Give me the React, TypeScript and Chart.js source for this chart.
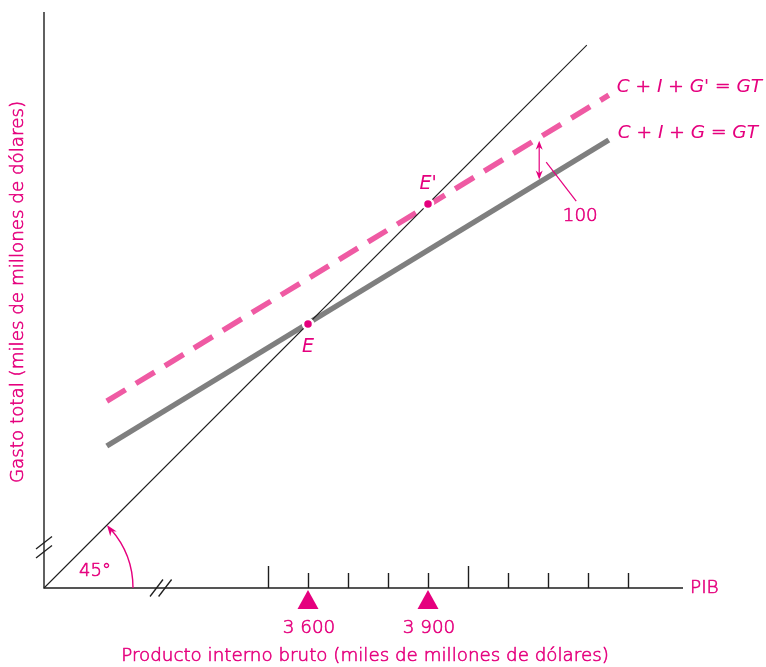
import React, { useEffect, useRef } from "react";
import { Chart, registerables } from "chart.js";

Chart.register(...registerables);

// ---- data (miles de millones de dólares) ----
const axisMin = 2940;
const xAxisMax = 4537.5;
const yAxisMax = 4380;
const line45X = [2940, 4297];
const gastoX = [3097, 4352];
const gastoY = [3295, 4060]; // C + I + G = GT
const gastoNuevoY = [3407, 4172]; // C + I + G' = GT
const equilibriumX = [3600, 3900];
const equilibriumLabels = ["E", "E'"];
const tickValues = [3500, 3600, 3700, 3800, 3900, 4000, 4100, 4200, 4300, 4400];
const majorTickValues = [3500, 4000];
const markedTickValues = [3600, 3900];
const markedTickLabels = ["3 600", "3 900"];
const shiftArrowX = 4178;
const shiftLabel = "100";
const yBreakValue = 3042;
const xBreakValue = 3232;

const MAGENTA = "#e5007e";
const PINK = "#ef5aa3";
const GRAY = "#7f7f7f";
const BLACK = "#1e1e1e";
const FONT = '"DejaVu Sans", "Liberation Sans", Arial, sans-serif';
const W = "200";
const TEXT_STROKE = 0.6;

function txt(ctx: CanvasRenderingContext2D, s: string, x: number, y: number, stroke = true) {
  ctx.fillText(s, x, y);
  if (!stroke) return;
  ctx.save();
  ctx.lineWidth = TEXT_STROKE;
  ctx.lineJoin = "round";
  ctx.strokeText(s, x, y);
  ctx.restore();
}

type Part = { t: string; i?: boolean };
function drawRich(ctx: CanvasRenderingContext2D, parts: Part[], x: number, y: number, size: number) {
  let cx = x;
  for (const p of parts) {
    ctx.font = p.i ? `italic normal ${size}px ${FONT}` : `${W} ${size}px ${FONT}`;
    txt(ctx, p.t, cx, y, !p.i);
    cx += ctx.measureText(p.t).width;
  }
}

function interp(xs: number[], ys: number[], x: number) {
  return ys[0] + ((ys[1] - ys[0]) * (x - xs[0])) / (xs[1] - xs[0]);
}

function arrowHead(ctx: CanvasRenderingContext2D, x: number, y: number, ang: number, len: number, w: number) {
  ctx.beginPath();
  ctx.moveTo(x, y);
  ctx.lineTo(x - len * Math.cos(ang) + w * Math.sin(ang), y - len * Math.sin(ang) - w * Math.cos(ang));
  ctx.lineTo(x - len * 0.7 * Math.cos(ang), y - len * 0.7 * Math.sin(ang));
  ctx.lineTo(x - len * Math.cos(ang) - w * Math.sin(ang), y - len * Math.sin(ang) + w * Math.cos(ang));
  ctx.closePath();
  ctx.fill();
}

const decorPlugin = {
  id: "decor",
  beforeDatasetsDraw(chart: any) {
    const ctx: CanvasRenderingContext2D = chart.ctx;
    const xs = chart.scales.x;
    const ys = chart.scales.y;
    const ox = xs.getPixelForValue(axisMin);
    const oy = ys.getPixelForValue(axisMin);
    const { top, right } = chart.chartArea;
    ctx.save();
    ctx.strokeStyle = BLACK;
    ctx.lineWidth = 1.4;
    ctx.beginPath();
    ctx.moveTo(ox, top);
    ctx.lineTo(ox, oy);
    ctx.lineTo(right, oy);
    ctx.stroke();
    // ticks
    for (const v of tickValues) {
      const px = Math.round(xs.getPixelForValue(v)) + 0.5;
      const h = majorTickValues.includes(v) ? 22 : 15;
      ctx.beginPath();
      ctx.moveTo(px, oy);
      ctx.lineTo(px, oy - h);
      ctx.stroke();
    }
    // axis breaks
    ctx.lineWidth = 1.3;
    const by = ys.getPixelForValue(yBreakValue);
    for (const d of [-4.5, 4.5]) {
      ctx.beginPath();
      ctx.moveTo(ox - 8, by + d + 6.3);
      ctx.lineTo(ox + 8, by + d - 6.3);
      ctx.stroke();
    }
    const bx = xs.getPixelForValue(xBreakValue);
    for (const d of [-4.3, 4.3]) {
      ctx.beginPath();
      ctx.moveTo(bx + d - 6.5, oy + 8.5);
      ctx.lineTo(bx + d + 6.5, oy - 8.5);
      ctx.stroke();
    }
    ctx.restore();
  },
  afterDatasetsDraw(chart: any) {
    const ctx: CanvasRenderingContext2D = chart.ctx;
    const xs = chart.scales.x;
    const ys = chart.scales.y;
    const ox = xs.getPixelForValue(axisMin);
    const oy = ys.getPixelForValue(axisMin);
    const { right } = chart.chartArea;
    ctx.save();
    ctx.fillStyle = MAGENTA;
    ctx.strokeStyle = MAGENTA;
    ctx.textBaseline = "middle";
    ctx.textAlign = "center";
    // triangles + labels
    markedTickValues.forEach((v, i) => {
      const px = xs.getPixelForValue(v);
      ctx.beginPath();
      ctx.moveTo(px, oy + 2);
      ctx.lineTo(px + 10.5, oy + 21);
      ctx.lineTo(px - 10.5, oy + 21);
      ctx.closePath();
      ctx.fill();
      ctx.font = `${W} 18.3px ${FONT}`;
      txt(ctx, markedTickLabels[i], px + 1, oy + 40);
    });
    // PIB
    ctx.textAlign = "left";
    ctx.font = `${W} 18.5px ${FONT}`;
    txt(ctx, "PIB", right + 7, oy);
    // axis titles
    ctx.textAlign = "center";
    ctx.font = `${W} 18.3px ${FONT}`;
    txt(ctx, "Producto interno bruto (miles de millones de dólares)", 365, oy + 68);
    ctx.save();
    ctx.translate(ox - 26, 292);
    ctx.rotate(-Math.PI / 2);
    txt(ctx, "Gasto total (miles de millones de dólares)", 0, 0);
    ctx.restore();
    // 45 degree arc
    ctx.lineWidth = 1.4;
    const r = 89;
    ctx.beginPath();
    ctx.arc(ox, oy, r, 0, -Math.PI / 4 + 0.06, true);
    ctx.stroke();
    const ea = -Math.PI / 4;
    const ax = ox + r * Math.cos(ea);
    const ay = oy + r * Math.sin(ea);
    arrowHead(ctx, ax, ay, -Math.PI / 4 - Math.PI / 2 + 0.15, 11, 4);
    ctx.textAlign = "center";
    ctx.font = `${W} 18px ${FONT}`;
    txt(ctx, "45°", ox + 51, oy - 17);
    // equilibrium labels
    ctx.font = `italic normal 19px ${FONT}`;
    equilibriumX.forEach((v, i) => {
      const px = xs.getPixelForValue(v);
      const py = ys.getPixelForValue(v);
      if (i === 0) txt(ctx, equilibriumLabels[i], px, py + 23, false);
      else txt(ctx, equilibriumLabels[i], px, py - 20, false);
    });
    // line labels
    ctx.textAlign = "left";
    const endX = xs.getPixelForValue(gastoX[1]);
    drawRich(
      ctx,
      [{ t: "C", i: true }, { t: " + " }, { t: "I", i: true }, { t: " + " }, { t: "G'", i: true }, { t: " = " }, { t: "GT", i: true }],
      endX + 8,
      ys.getPixelForValue(gastoNuevoY[1]) - 8,
      18.5
    );
    drawRich(
      ctx,
      [{ t: "C", i: true }, { t: " + " }, { t: "I", i: true }, { t: " + " }, { t: "G", i: true }, { t: " = " }, { t: "GT", i: true }],
      endX + 9,
      ys.getPixelForValue(gastoY[1]) - 7,
      18.5
    );
    // shift arrow (100)
    const sx = xs.getPixelForValue(shiftArrowX);
    const sy1 = ys.getPixelForValue(interp(gastoX, gastoNuevoY, shiftArrowX)) + 3;
    const sy2 = ys.getPixelForValue(interp(gastoX, gastoY, shiftArrowX)) - 3;
    ctx.lineWidth = 1.2;
    ctx.beginPath();
    ctx.moveTo(sx, sy1 + 4);
    ctx.lineTo(sx, sy2 - 4);
    ctx.stroke();
    arrowHead(ctx, sx, sy1, -Math.PI / 2, 9, 3.5);
    arrowHead(ctx, sx, sy2, Math.PI / 2, 9, 3.5);
    const my = (sy1 + sy2) / 2;
    ctx.beginPath();
    ctx.moveTo(sx + 7, my + 2);
    ctx.lineTo(sx + 37, my + 41);
    ctx.stroke();
    ctx.textAlign = "center";
    ctx.font = `${W} 18.3px ${FONT}`;
    txt(ctx, shiftLabel, sx + 41, my + 56);
    ctx.restore();
  },
};

export default function App() {
  const ref = useRef<HTMLCanvasElement | null>(null);
  useEffect(() => {
    if (!ref.current) return;
    const chart = new Chart(ref.current, {
      type: "scatter",
      data: {
        datasets: [
          {
            label: "Equilibrio",
            data: equilibriumX.map((v) => ({ x: v, y: v })),
            showLine: false,
            pointRadius: 5,
            pointBackgroundColor: MAGENTA,
            pointBorderColor: "#ffffff",
            pointBorderWidth: 2.5,
            order: 0,
          },
          {
            label: "45°",
            data: line45X.map((v) => ({ x: v, y: v })),
            showLine: true,
            borderColor: BLACK,
            borderWidth: 1.1,
            pointRadius: 0,
            order: 1,
          },
          {
            label: "C + I + G' = GT",
            data: gastoX.map((v, i) => ({ x: v, y: gastoNuevoY[i] })),
            showLine: true,
            borderColor: PINK,
            borderWidth: 5.5,
            borderDash: [22, 12],
            borderCapStyle: "butt",
            pointRadius: 0,
            order: 2,
          },
          {
            label: "C + I + G = GT",
            data: gastoX.map((v, i) => ({ x: v, y: gastoY[i] })),
            showLine: true,
            borderColor: GRAY,
            borderWidth: 5.5,
            pointRadius: 0,
            order: 3,
          },
        ],
      },
      options: {
        animation: false,
        responsive: true,
        maintainAspectRatio: false,
        layout: { padding: { left: 44, right: 83, top: 12, bottom: 79 } },
        scales: {
          x: { type: "linear", min: axisMin, max: xAxisMax, display: false },
          y: { type: "linear", min: axisMin, max: yAxisMax, display: false },
        },
        plugins: { legend: { display: false }, tooltip: { enabled: false } },
        elements: { line: { tension: 0 } },
        clip: false as any,
      } as any,
      plugins: [decorPlugin],
    });
    return () => chart.destroy();
  }, []);
  return (
    <div style={{ position: "absolute", left: 0, top: 0, width: 766, height: 667, background: "#fff" }}>
      <canvas ref={ref} />
    </div>
  );
}
